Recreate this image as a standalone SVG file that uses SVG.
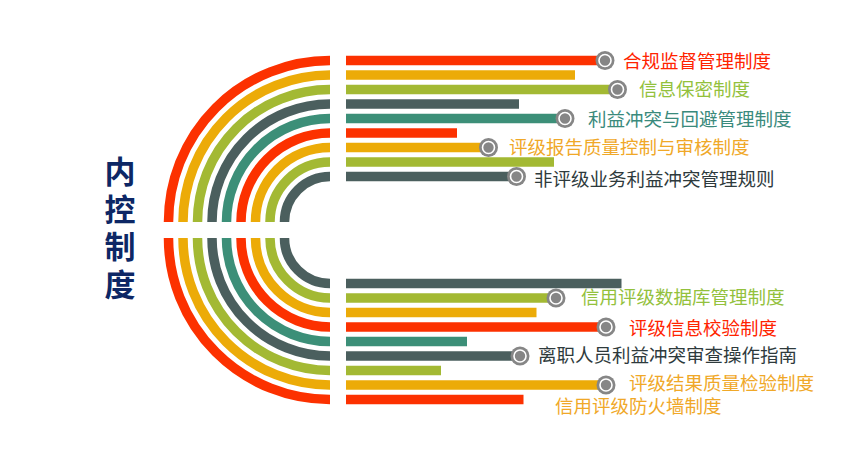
<svg xmlns="http://www.w3.org/2000/svg" width="861" height="465" viewBox="0 0 861 465">
<style>
.arc{fill:none;stroke-width:9.5}
.bar{stroke-width:9.5}
.r{stroke:#fc3100}.o{stroke:#ecab08}.g{stroke:#a3b933}.d{stroke:#4b5f5e}.t{stroke:#3c8f78}
.lbl{font-family:"Noto Sans CJK SC","Noto Sans",sans-serif;font-size:18.5px;dominant-baseline:central}
.title{font-family:"Noto Sans CJK SC","Noto Sans",sans-serif;font-size:31px;font-weight:bold;fill:#0d2765;writing-mode:vertical-rl;letter-spacing:6.5px}
</style>
<defs>
<g id="dot"><circle r="9.5" fill="#868686"/><circle r="6" fill="#868686" stroke="#fff" stroke-width="1.6"/></g>
</defs>
<rect width="861" height="465" fill="#fff"/>
<g id="title">
<text class="title" x="120" y="156">内控制度</text>
</g>
<g id="top">
<g id="t0"><path class="arc r" d="M168.5,222 A161.5,161.5 0 0 1 330,60.5"/><line class="bar r" x1="346" y1="60.5" x2="605" y2="60.5"/><use href="#dot" x="605" y="60.5"/><text class="lbl" x="623" y="59.5" fill="#ff2400">合规监督管理制度</text></g>
<g id="t1"><path class="arc o" d="M183,222 A147,147 0 0 1 330,75"/><line class="bar o" x1="346" y1="75" x2="575" y2="75"/></g>
<g id="t2"><path class="arc g" d="M197.5,222 A132.5,132.5 0 0 1 330,89.5"/><line class="bar g" x1="346" y1="89.5" x2="617.5" y2="89.5"/><use href="#dot" x="617.5" y="89.5"/><text class="lbl" x="639" y="88" fill="#93c13c">信息保密制度</text></g>
<g id="t3"><path class="arc d" d="M212,222 A118,118 0 0 1 330,104"/><line class="bar d" x1="346" y1="104" x2="519" y2="104"/></g>
<g id="t4"><path class="arc t" d="M226.5,222 A103.5,103.5 0 0 1 330,118.5"/><line class="bar t" x1="346" y1="118.5" x2="565" y2="118.5"/><use href="#dot" x="565" y="118.5"/><text class="lbl" x="588" y="117.5" fill="#3a8a7c">利益冲突与回避管理制度</text></g>
<g id="t5"><path class="arc r" d="M241,222 A89,89 0 0 1 330,133"/><line class="bar r" x1="346" y1="133" x2="457" y2="133"/></g>
<g id="t6"><path class="arc o" d="M255.5,222 A74.5,74.5 0 0 1 330,147.5"/><line class="bar o" x1="346" y1="147.5" x2="488.5" y2="147.5"/><use href="#dot" x="488.5" y="147.5"/><text class="lbl" x="509" y="146" fill="#f0a828">评级报告质量控制与审核制度</text></g>
<g id="t7"><path class="arc g" d="M270,222 A60,60 0 0 1 330,162"/><line class="bar g" x1="346" y1="162" x2="554" y2="162"/></g>
<g id="t8"><path class="arc d" d="M284.5,222 A45.5,45.5 0 0 1 330,176.5"/><line class="bar d" x1="346" y1="176.5" x2="516.5" y2="176.5"/><use href="#dot" x="516.5" y="176.5"/><text class="lbl" x="534" y="178" fill="#2e3a3c">非评级业务利益冲突管理规则</text></g>
</g>
<g id="bottom">
<g id="b0"><path class="arc r" d="M168.5,238 A161.5,161.5 0 0 0 330,399.5"/><line class="bar r" x1="346" y1="399.5" x2="523.5" y2="399.5"/></g>
<g id="b1"><path class="arc o" d="M183,238 A147,147 0 0 0 330,385"/><line class="bar o" x1="346" y1="385" x2="606" y2="385"/><use href="#dot" x="606" y="385"/><text class="lbl" x="629" y="381.5" fill="#f0a828">评级结果质量检验制度</text></g>
<g id="b2"><path class="arc g" d="M197.5,238 A132.5,132.5 0 0 0 330,370.5"/><line class="bar g" x1="346" y1="370.5" x2="441" y2="370.5"/></g>
<g id="b3"><path class="arc d" d="M212,238 A118,118 0 0 0 330,356"/><line class="bar d" x1="346" y1="356" x2="520" y2="356"/><use href="#dot" x="520" y="356"/><text class="lbl" x="538" y="354" fill="#2e3a3c">离职人员利益冲突审查操作指南</text></g>
<g id="b4"><path class="arc t" d="M226.5,238 A103.5,103.5 0 0 0 330,341.5"/><line class="bar t" x1="346" y1="341.5" x2="467" y2="341.5"/></g>
<g id="b5"><path class="arc r" d="M241,238 A89,89 0 0 0 330,327"/><line class="bar r" x1="346" y1="327" x2="606" y2="327"/><use href="#dot" x="606" y="327"/><text class="lbl" x="629" y="326.5" fill="#ff2400">评级信息校验制度</text></g>
<g id="b6"><path class="arc o" d="M255.5,238 A74.5,74.5 0 0 0 330,312.5"/><line class="bar o" x1="346" y1="312.5" x2="536.5" y2="312.5"/></g>
<g id="b7"><path class="arc g" d="M270,238 A60,60 0 0 0 330,298"/><line class="bar g" x1="346" y1="298" x2="556" y2="298"/><use href="#dot" x="556" y="298"/><text class="lbl" x="581" y="295.5" fill="#93c13c">信用评级数据库管理制度</text></g>
<g id="b8"><path class="arc d" d="M284.5,238 A45.5,45.5 0 0 0 330,283.5"/><line class="bar d" x1="346" y1="283.5" x2="621.5" y2="283.5"/></g>
<g id="b9"><text class="lbl" x="555" y="405" fill="#f0a828">信用评级防火墙制度</text></g>
</g>
<g id="connectors"/>
</svg>
